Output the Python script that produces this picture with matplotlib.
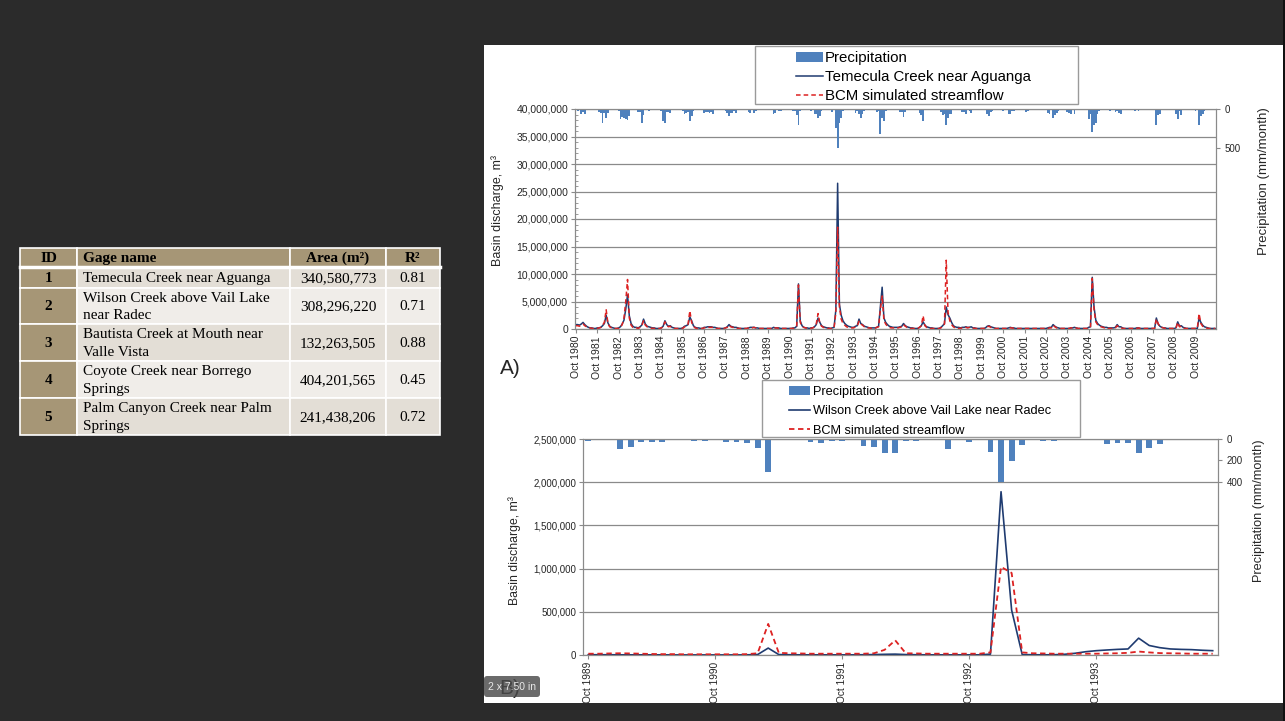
import numpy as np
import matplotlib
matplotlib.use('Agg')
import matplotlib.pyplot as plt
from matplotlib.patches import Rectangle, FancyBboxPatch
from matplotlib.ticker import FuncFormatter, MultipleLocator

# ---- table data ----
tbl_header = ['ID', 'Gage name', 'Area (m²)', 'R²']
tbl_ids = ['1', '2', '3', '4', '5']
tbl_names = ['Temecula Creek near Aguanga',
             'Wilson Creek above Vail Lake\nnear Radec',
             'Bautista Creek at Mouth near\nValle Vista',
             'Coyote Creek near Borrego\nSprings',
             'Palm Canyon Creek near Palm\nSprings']
tbl_area = ['340,580,773', '308,296,220', '132,263,505', '404,201,565', '241,438,206']
tbl_r2 = ['0.81', '0.71', '0.88', '0.45', '0.72']

# ---- chart A: Temecula Creek, monthly Oct 1980 - Sep 2010 (one row per water year) ----
years_a = list(range(1980, 2010))
obs_a = [  # million m3
    [0.8, 0.8, 0.7, 0.9, 1.2, 0.8, 0.5, 0.3, 0.2, 0.2, 0.1, 0.1],
    [0.2, 0.2, 0.3, 0.6, 1.0, 2.5, 1.1, 0.5, 0.3, 0.2, 0.1, 0.1],
    [0.2, 0.4, 0.9, 1.6, 3.6, 6.2, 2.4, 1.0, 0.5, 0.3, 0.3, 0.2],
    [0.4, 0.7, 1.8, 0.9, 0.5, 0.4, 0.3, 0.2, 0.2, 0.1, 0.1, 0.1],
    [0.2, 0.5, 1.5, 0.8, 0.5, 0.6, 0.3, 0.2, 0.1, 0.1, 0.1, 0.1],
    [0.2, 0.5, 0.6, 0.8, 2.2, 1.5, 0.6, 0.3, 0.2, 0.2, 0.1, 0.1],
    [0.3, 0.3, 0.4, 0.4, 0.4, 0.3, 0.3, 0.2, 0.1, 0.1, 0.1, 0.1],
    [0.2, 0.4, 0.8, 0.5, 0.4, 0.3, 0.3, 0.2, 0.1, 0.1, 0.1, 0.1],
    [0.1, 0.2, 0.3, 0.3, 0.3, 0.2, 0.2, 0.1, 0.1, 0.1, 0.1, 0.1],
    [0.1, 0.1, 0.1, 0.3, 0.2, 0.2, 0.2, 0.1, 0.1, 0.1, 0.1, 0.1],
    [0.1, 0.1, 0.2, 0.2, 0.5, 8.2, 1.5, 0.6, 0.3, 0.2, 0.2, 0.1],
    [0.2, 0.2, 0.4, 0.8, 2.0, 1.2, 0.6, 0.4, 0.3, 0.2, 0.2, 0.1],
    [0.2, 0.3, 3.5, 26.5, 4.5, 2.5, 1.5, 1.0, 0.7, 0.5, 0.4, 0.3],
    [0.3, 0.5, 0.6, 1.8, 1.0, 0.8, 0.5, 0.4, 0.3, 0.2, 0.2, 0.2],
    [0.2, 0.3, 0.5, 4.0, 7.6, 2.0, 1.2, 0.8, 0.5, 0.4, 0.3, 0.3],
    [0.3, 0.3, 0.4, 0.5, 1.0, 0.6, 0.4, 0.3, 0.2, 0.2, 0.1, 0.1],
    [0.1, 0.3, 0.6, 1.3, 0.7, 0.4, 0.3, 0.2, 0.2, 0.1, 0.1, 0.1],
    [0.1, 0.3, 0.6, 1.0, 4.0, 2.6, 2.0, 1.2, 0.6, 0.4, 0.3, 0.3],
    [0.2, 0.3, 0.3, 0.4, 0.3, 0.3, 0.4, 0.2, 0.2, 0.1, 0.1, 0.1],
    [0.1, 0.1, 0.2, 0.5, 0.6, 0.4, 0.3, 0.2, 0.1, 0.1, 0.1, 0.1],
    [0.1, 0.1, 0.1, 0.2, 0.3, 0.2, 0.2, 0.1, 0.1, 0.1, 0.1, 0.1],
    [0.1, 0.1, 0.1, 0.1, 0.1, 0.1, 0.1, 0.1, 0.1, 0.1, 0.1, 0.1],
    [0.1, 0.2, 0.3, 0.3, 0.8, 0.5, 0.3, 0.2, 0.1, 0.1, 0.1, 0.1],
    [0.1, 0.1, 0.2, 0.2, 0.3, 0.2, 0.1, 0.1, 0.1, 0.1, 0.1, 0.1],
    [0.3, 0.4, 9.4, 4.0, 1.6, 1.0, 0.7, 0.5, 0.4, 0.3, 0.3, 0.2],
    [0.2, 0.2, 0.2, 0.3, 0.8, 0.4, 0.4, 0.2, 0.1, 0.1, 0.1, 0.1],
    [0.1, 0.1, 0.1, 0.2, 0.2, 0.1, 0.1, 0.1, 0.1, 0.1, 0.1, 0.1],
    [0.1, 0.1, 2.0, 0.9, 0.5, 0.3, 0.2, 0.2, 0.1, 0.1, 0.1, 0.1],
    [0.1, 0.2, 1.3, 0.5, 0.6, 0.3, 0.2, 0.1, 0.1, 0.1, 0.1, 0.1],
    [0.1, 0.1, 2.0, 1.2, 0.7, 0.4, 0.3, 0.2, 0.1, 0.1, 0.1, 0.1],
]
sim_a = [
    [0.6, 0.6, 0.5, 0.7, 0.9, 0.6, 0.4, 0.3, 0.2, 0.1, 0.1, 0.1],
    [0.1, 0.2, 0.3, 0.7, 1.2, 3.5, 1.0, 0.4, 0.2, 0.1, 0.1, 0.1],
    [0.1, 0.3, 0.8, 2.0, 5.0, 9.0, 2.0, 0.7, 0.3, 0.2, 0.2, 0.1],
    [0.3, 0.6, 1.5, 0.7, 0.4, 0.3, 0.2, 0.1, 0.1, 0.1, 0.1, 0.1],
    [0.2, 0.4, 1.3, 0.7, 0.4, 0.5, 0.2, 0.1, 0.1, 0.1, 0.1, 0.1],
    [0.1, 0.4, 0.5, 0.9, 3.3, 1.2, 0.5, 0.2, 0.1, 0.1, 0.1, 0.1],
    [0.2, 0.3, 0.3, 0.3, 0.3, 0.3, 0.2, 0.1, 0.1, 0.1, 0.1, 0.1],
    [0.2, 0.3, 0.7, 0.4, 0.3, 0.3, 0.2, 0.1, 0.1, 0.1, 0.1, 0.1],
    [0.1, 0.2, 0.2, 0.2, 0.3, 0.2, 0.1, 0.1, 0.1, 0.1, 0.1, 0.1],
    [0.1, 0.1, 0.1, 0.2, 0.2, 0.2, 0.1, 0.1, 0.1, 0.1, 0.1, 0.1],
    [0.1, 0.1, 0.1, 0.2, 0.5, 8.0, 1.2, 0.5, 0.3, 0.2, 0.1, 0.1],
    [0.1, 0.2, 0.4, 0.9, 2.8, 1.0, 0.5, 0.3, 0.2, 0.1, 0.1, 0.1],
    [0.1, 0.2, 3.0, 18.5, 4.0, 1.8, 1.0, 0.7, 0.4, 0.3, 0.2, 0.2],
    [0.2, 0.4, 0.5, 1.4, 0.9, 0.7, 0.4, 0.3, 0.2, 0.2, 0.1, 0.1],
    [0.1, 0.3, 0.4, 3.5, 6.0, 1.6, 0.9, 0.5, 0.3, 0.2, 0.2, 0.2],
    [0.2, 0.2, 0.3, 0.4, 0.8, 0.5, 0.3, 0.2, 0.1, 0.1, 0.1, 0.1],
    [0.1, 0.3, 0.6, 2.4, 0.6, 0.3, 0.2, 0.1, 0.1, 0.1, 0.1, 0.1],
    [0.1, 0.2, 0.5, 0.9, 12.5, 3.0, 1.5, 0.8, 0.4, 0.2, 0.2, 0.1],
    [0.1, 0.2, 0.2, 0.3, 0.2, 0.3, 0.3, 0.2, 0.1, 0.1, 0.1, 0.1],
    [0.1, 0.1, 0.1, 0.4, 0.5, 0.3, 0.2, 0.1, 0.1, 0.1, 0.1, 0.1],
    [0.1, 0.1, 0.1, 0.2, 0.2, 0.2, 0.1, 0.1, 0.1, 0.1, 0.1, 0.1],
    [0.1, 0.1, 0.1, 0.1, 0.1, 0.1, 0.1, 0.1, 0.1, 0.1, 0.1, 0.1],
    [0.1, 0.1, 0.2, 0.2, 0.7, 0.4, 0.2, 0.1, 0.1, 0.1, 0.1, 0.1],
    [0.1, 0.1, 0.2, 0.2, 0.2, 0.2, 0.1, 0.1, 0.1, 0.1, 0.1, 0.1],
    [0.2, 0.3, 9.2, 3.5, 1.3, 0.8, 0.5, 0.4, 0.3, 0.2, 0.2, 0.1],
    [0.1, 0.1, 0.1, 0.2, 0.6, 0.3, 0.3, 0.1, 0.1, 0.1, 0.1, 0.1],
    [0.1, 0.1, 0.1, 0.1, 0.2, 0.1, 0.1, 0.1, 0.1, 0.1, 0.1, 0.1],
    [0.1, 0.1, 1.8, 1.0, 0.4, 0.3, 0.2, 0.1, 0.1, 0.1, 0.1, 0.1],
    [0.1, 0.1, 1.2, 0.4, 0.5, 0.2, 0.1, 0.1, 0.1, 0.1, 0.1, 0.1],
    [0.1, 0.1, 2.8, 1.0, 0.5, 0.3, 0.2, 0.1, 0.1, 0.1, 0.1, 0.1],
]
precip_a = [  # mm/month
    [5, 30, 15, 70, 40, 60, 15, 5, 0, 0, 5, 3],
    [10, 35, 50, 175, 45, 120, 50, 5, 0, 0, 3, 10],
    [25, 125, 105, 120, 130, 140, 85, 10, 0, 0, 15, 35],
    [35, 185, 75, 15, 10, 25, 10, 0, 0, 5, 10, 5],
    [25, 150, 180, 40, 35, 55, 10, 0, 0, 0, 5, 5],
    [20, 60, 45, 40, 150, 85, 20, 5, 0, 0, 0, 15],
    [45, 35, 40, 45, 40, 60, 15, 5, 0, 0, 0, 5],
    [30, 55, 95, 50, 45, 25, 50, 5, 0, 0, 0, 0],
    [0, 40, 50, 15, 45, 20, 5, 0, 0, 0, 0, 0],
    [15, 10, 0, 70, 55, 15, 20, 25, 5, 0, 0, 5],
    [10, 15, 30, 20, 80, 200, 20, 5, 0, 0, 0, 10],
    [25, 15, 60, 70, 110, 90, 20, 5, 0, 5, 0, 5],
    [40, 10, 240, 500, 180, 110, 20, 5, 0, 0, 0, 5],
    [10, 50, 30, 60, 120, 70, 30, 10, 0, 0, 0, 5],
    [15, 40, 30, 320, 110, 160, 20, 15, 10, 0, 0, 0],
    [0, 10, 40, 40, 100, 40, 15, 5, 0, 0, 0, 0],
    [5, 50, 80, 160, 15, 5, 5, 0, 0, 0, 10, 5],
    [5, 40, 80, 60, 210, 120, 60, 60, 5, 0, 0, 5],
    [5, 40, 35, 60, 10, 30, 50, 5, 0, 10, 5, 0],
    [0, 5, 5, 60, 90, 40, 30, 5, 0, 0, 5, 5],
    [30, 5, 5, 60, 70, 20, 25, 5, 0, 0, 5, 5],
    [10, 40, 20, 10, 5, 15, 5, 0, 0, 0, 0, 0],
    [5, 45, 60, 10, 110, 80, 50, 30, 0, 0, 10, 0],
    [40, 45, 60, 5, 60, 15, 10, 0, 0, 0, 0, 5],
    [130, 70, 290, 200, 180, 60, 30, 5, 0, 5, 0, 0],
    [20, 10, 5, 40, 20, 50, 60, 5, 0, 10, 0, 0],
    [5, 10, 20, 10, 30, 5, 10, 5, 0, 10, 5, 0],
    [0, 10, 200, 80, 60, 5, 10, 5, 0, 0, 0, 0],
    [5, 60, 130, 20, 80, 10, 5, 10, 0, 0, 0, 0],
    [20, 5, 200, 90, 70, 20, 15, 5, 0, 0, 0, 0],
]

# ---- chart B: Wilson Creek, monthly Oct 1989 - Sep 1994 ----
years_b = list(range(1989, 1994))
obs_b = [  # thousand m3
    [3, 3, 3, 2, 2, 2, 2, 2, 1, 1, 1, 1],
    [1, 1, 1, 2, 5, 80, 5, 3, 2, 2, 2, 2],
    [2, 2, 3, 5, 8, 10, 5, 3, 2, 2, 2, 2],
    [2, 2, 10, 1890, 520, 5, 3, 2, 3, 8, 20, 38],
    [50, 58, 65, 70, 195, 110, 85, 70, 65, 62, 55, 50],
]
sim_b = [
    [15, 15, 18, 20, 18, 15, 12, 10, 10, 8, 8, 8],
    [8, 8, 8, 10, 20, 360, 25, 20, 18, 15, 15, 15],
    [15, 15, 15, 20, 60, 170, 20, 18, 15, 15, 15, 15],
    [15, 15, 30, 1020, 950, 30, 20, 18, 15, 15, 15, 15],
    [15, 18, 20, 25, 40, 30, 22, 20, 18, 15, 15, 15],
]
precip_b = [
    [15, 3, 5, 92, 70, 30, 30, 25, 5, 3, 15, 18],
    [5, 25, 25, 40, 80, 308, 5, 5, 3, 25, 34, 18],
    [18, 5, 65, 70, 132, 126, 18, 18, 3, 3, 92, 3],
    [30, 3, 120, 400, 203, 55, 3, 18, 18, 3, 3, 3],
    [5, 50, 34, 34, 126, 86, 46, 3, 3, 3, 5, 3],
]

BG = '#2b2b2b'
BAR = '#4f81bd'
OBS = '#1f3b70'
SIM = '#dd2222'
GRID = '#8a8a8a'
TXT = '#262626'
SANS = ['Liberation Sans', 'DejaVu Sans']
SERIF = ['Liberation Serif', 'DejaVu Serif']

W, H = 1285, 721
fig = plt.figure(figsize=(W / 100, H / 100), dpi=100)
fig.patch.set_facecolor(BG)


def axes_px(left, top, right, bottom, **kw):
    return fig.add_axes([left / W, 1 - bottom / H, (right - left) / W, (bottom - top) / H], **kw)


bg = axes_px(0, 0, W, H, zorder=-5)
bg.set_xlim(0, W)
bg.set_ylim(H, 0)
bg.axis('off')

# white picture panel
bg.add_patch(Rectangle((484, 45), 799, 658, fc='white', ec='none'))

# ---- table ----
col_x = [20, 77, 290, 386, 440]
row_y = [248, 267, 288, 324, 361, 398, 435]
TAN = '#a69676'
LIGHT = ['#e3ded6', '#f0ede9']
for r in range(len(row_y) - 1):
    for c in range(len(col_x) - 1):
        if r == 0 or c == 0:
            fc = TAN
        else:
            fc = LIGHT[(r - 1) % 2]
        bg.add_patch(Rectangle((col_x[c], row_y[r]), col_x[c + 1] - col_x[c],
                               row_y[r + 1] - row_y[r], fc=fc, ec='white', lw=1.2))
bg.plot([col_x[0], col_x[-1]], [row_y[1], row_y[1]], color='white', lw=2.5)

cx = [(col_x[0] + col_x[1]) / 2, col_x[1] + 6, (col_x[2] + col_x[3]) / 2, (col_x[3] + col_x[4]) / 2]
ha = ['center', 'left', 'center', 'center']
for j, h in enumerate(tbl_header):
    bg.text(cx[j], (row_y[0] + row_y[1]) / 2 + 1, h, ha=ha[j], va='center',
            fontsize=11, fontweight='bold', family=SERIF, color='black')
for i in range(len(tbl_ids)):
    yc = (row_y[i + 1] + row_y[i + 2]) / 2 + 1
    row = [tbl_ids[i], tbl_names[i], tbl_area[i], tbl_r2[i]]
    for j, v in enumerate(row):
        bg.text(cx[j], yc, v, ha=ha[j], va='center', fontsize=11,
                fontweight='bold' if j == 0 else 'normal', family=SERIF,
                color='black', linespacing=1.45)


def style_axes(ax, pr):
    for s in ax.spines.values():
        s.set_color(GRID)
        s.set_linewidth(0.8)
    for s in pr.spines.values():
        s.set_color(GRID)
        s.set_linewidth(0.8)
    ax.grid(axis='y', color=GRID, lw=0.9)
    ax.set_axisbelow(True)
    ax.tick_params(axis='both', which='major', direction='out', length=3,
                   color=GRID, labelcolor=TXT, pad=2)
    pr.tick_params(axis='y', direction='out', length=3, color=GRID,
                   labelcolor=TXT, pad=3)
    for t in ax.get_yticklabels() + ax.get_xticklabels() + pr.get_yticklabels():
        t.set_family(SANS)


fmt = FuncFormatter(lambda v, p: f'{v:,.0f}')

# ---- chart A ----
m_a = np.arange(len(years_a) * 12)
ax_a = axes_px(575, 109, 1216, 329)
ln_obs_a, = ax_a.plot(m_a, np.ravel(obs_a) * 1e6, color=OBS, lw=1.1, zorder=3)
ln_sim_a, = ax_a.plot(m_a, np.ravel(sim_a) * 1e6, color=SIM, lw=1.1, ls=(0, (3, 2)), zorder=4)
ax_a.set_xlim(-0.5, len(m_a) - 0.5)
ax_a.set_ylim(0, 40e6)
ax_a.yaxis.set_major_locator(MultipleLocator(5e6))
ax_a.yaxis.set_minor_locator(MultipleLocator(1e6))
ax_a.yaxis.set_major_formatter(fmt)
ax_a.set_xticks(m_a[::12])
ax_a.set_xticklabels([f'Oct {y}' for y in years_a], rotation=90, fontsize=7.5)
ax_a.tick_params(axis='y', labelsize=7.5)
ax_a.tick_params(axis='y', which='minor', direction='in', length=2, color=GRID)
pr_a = ax_a.twinx()
bars_a = pr_a.bar(m_a, np.ravel(precip_a), width=1.0, color=BAR, lw=0)
pr_a.set_ylim(2820, 0)
pr_a.set_yticks([0, 500])
pr_a.tick_params(axis='y', labelsize=7)
style_axes(ax_a, pr_a)

# ---- chart B ----
m_b = np.arange(len(years_b) * 12)
ax_b = axes_px(583, 439, 1218, 655)
ln_obs_b, = ax_b.plot(m_b, np.ravel(obs_b) * 1e3, color=OBS, lw=1.2, zorder=3)
ln_sim_b, = ax_b.plot(m_b, np.ravel(sim_b) * 1e3, color=SIM, lw=1.3, ls=(0, (3, 2)), zorder=4)
ax_b.set_xlim(-0.5, len(m_b) - 0.5)
ax_b.set_ylim(0, 2.5e6)
ax_b.yaxis.set_major_locator(MultipleLocator(5e5))
ax_b.yaxis.set_major_formatter(fmt)
ax_b.set_xticks(m_b[::12])
ax_b.set_xticklabels([f'Oct {y}' for y in years_b], rotation=90, fontsize=7.3)
ax_b.tick_params(axis='y', labelsize=7)
pr_b = ax_b.twinx()
bars_b = pr_b.bar(m_b, np.ravel(precip_b), width=0.55, color=BAR, lw=0)
pr_b.set_ylim(2010, 0)
pr_b.set_yticks([0, 200, 400])
pr_b.tick_params(axis='y', labelsize=7)
style_axes(ax_b, pr_b)

# ---- legends (frames drawn on the panel, entries by matplotlib) ----
bg.add_patch(Rectangle((755, 46), 323, 58, fc='white', ec='#9a9a9a', lw=1.0))
bg.add_patch(Rectangle((762, 380), 318, 57, fc='white', ec='#9a9a9a', lw=1.0))
pr_a.legend([bars_a, ln_obs_a, ln_sim_a],
            ['Precipitation', 'Temecula Creek near Aguanga', 'BCM simulated streamflow'],
            loc='upper left', bbox_to_anchor=(796 / W, 1 - 51 / H), bbox_transform=fig.transFigure,
            frameon=False, borderpad=0, borderaxespad=0, labelspacing=0.33,
            handlelength=1.8, handletextpad=0.15, prop={'family': SANS, 'size': 10.8})
pr_b.legend([bars_b, ln_obs_b, ln_sim_b],
            ['Precipitation', 'Wilson Creek above Vail Lake near Radec', 'BCM simulated streamflow'],
            loc='upper left', bbox_to_anchor=(789 / W, 1 - 386 / H), bbox_transform=fig.transFigure,
            frameon=False, borderpad=0, borderaxespad=0, labelspacing=0.58,
            handlelength=1.65, handletextpad=0.2, prop={'family': SANS, 'size': 9.2})

# ---- axis titles and panel letters ----
bg.text(498, 211, 'Basin discharge, m³', rotation=90, ha='center', va='center',
        fontsize=9, family=SANS, color=TXT)
bg.text(1264, 181, 'Precipitation (mm/month)', rotation=90, ha='center', va='center',
        fontsize=9.5, family=SANS, color=TXT)
bg.text(515, 551, 'Basin discharge, m³', rotation=90, ha='center', va='center',
        fontsize=8.8, family=SANS, color=TXT)
bg.text(1259, 511, 'Precipitation (mm/month)', rotation=90, ha='center', va='center',
        fontsize=9.2, family=SANS, color=TXT)
bg.text(510, 368, 'A)', ha='center', va='center', fontsize=15, family=SANS, color=TXT)
bg.text(510, 688, 'B)', ha='center', va='center', fontsize=15, family=SANS, color=TXT)

# ---- overlay: picture cut at the bottom, size tooltip ----
fg = axes_px(0, 0, W, H, zorder=10)
fg.set_xlim(0, W)
fg.set_ylim(H, 0)
fg.axis('off')
fg.add_patch(Rectangle((0, 703), W, 18, fc=BG, ec='none'))
fg.add_patch(Rectangle((1283, 0), 2, H, fc='#111111', ec='none'))
fg.add_patch(FancyBboxPatch((484, 676), 56, 21, boxstyle='round,pad=0,rounding_size=3',
                            fc='#4a4a4a', ec='none', alpha=0.82))
fg.text(512, 686.5, '2 x 7.50 in', ha='center', va='center', fontsize=7.5,
        family=SANS, color='#e8e8e8')

fig.savefig('out.png', dpi=100, facecolor=fig.get_facecolor())
